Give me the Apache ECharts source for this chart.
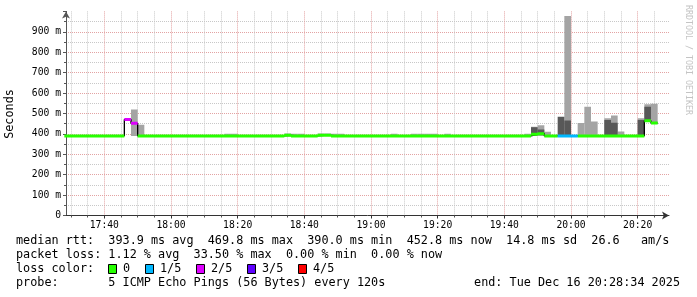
<!DOCTYPE html>
<html><head><meta charset="utf-8">
<script src="https://cdn.jsdelivr.net/npm/echarts@6/dist/echarts.min.js"></script>
<style>html,body{margin:0;padding:0;background:#fff}#c{width:697px;height:297px}</style>
</head><body><div id="c"></div>
<script>
// ---- data (2-minute bins, first bin starts 17:28, last ends 20:26) ----
const firstBinStart = '17:28';
const stepMinutes = 2;
const medianRtt = [ // ms
  390,390,390,390,390,390,390,390,390,469.8,
  451.6,390,390,390,390,390,390,390,390,390,
  390,390,390,390,390,390,390,390,390,390,
  390,390,390,393,390,390,390,390,393,393,
  390,390,390,390,390,390,390,390,390,390,
  390,390,390,390,390,390,390,390,390,390,
  390,390,390,390,390,390,390,390,390,390,
  398,401,390,390,390,390,390,390,390,390,
  390,390,390,390,390,390,390,464,452.8
];
const lossLevel = [ // lost pings out of 5
  0,0,0,0,0,0,0,0,0,2,
  2,0,0,0,0,0,0,0,0,0,
  0,0,0,0,0,0,0,0,0,0,
  0,0,0,0,0,0,0,0,0,0,
  0,0,0,0,0,0,0,0,0,0,
  0,0,0,0,0,0,0,0,0,0,
  0,0,0,0,0,0,0,0,0,0,
  0,0,0,0,1,1,1,0,0,0,
  0,0,0,0,0,0,0,0,0
];
// outer smoke (min..max ping) per bin index
const lightBins   = [10, 11, 24, 25, 33, 34, 35, 38, 39, 40, 41, 49, 52, 53, 54, 55, 57, 69, 70, 71, 72, 75, 77, 78, 79, 81, 82, 83, 86, 87, 88];
const lightBottom = [390,390,390,390,390,390,390,390,390,390,390,390,390,390,390,390,390,390,390,390,390,390,390,390,390,390,390,390,390,460,452];
const lightTop    = [519,445,400,400,402,400,400,402,402,400,400,400,400,400,400,400,400,401,435,442,410,978,453,533,460,476,490,411,476,545,548];
// inner smoke per bin index
const darkBins   = [70, 71, 74, 75, 81, 82, 86, 87];
const darkBottom = [393,395,390,390,390,390,390,468];
const darkTop    = [432,421,484,465,468,455,468,533];
// axis
const timeTickLabels = ['17:40','18:00','18:20','18:40','19:00','19:20','19:40','20:00','20:20'];
const lossLegend = ['0','1/5','2/5','3/5','4/5'];
const lossColors = ['#26ff00','#00b8ff','#dd00ff','#5e00ff','#ff0000'];
const statLines = [
  'median rtt:  393.9 ms avg  469.8 ms max  390.0 ms min  452.8 ms now  14.8 ms sd  26.6   am/s',
  'packet loss: 1.12 % avg  33.50 % max  0.00 % min  0.00 % now',
  'loss color:',
  'probe:       5 ICMP Echo Pings (56 Bytes) every 120s'
];
const endText = 'end: Tue Dec 16 20:28:34 2025';

// ---- helpers ----
const toMin = s => { const [h, m] = s.split(':').map(Number); return (h - 17) * 60 + m; };
const fmt = v => { const t = Math.round(v); const h = 17 + Math.floor(t / 60), m = t % 60; return h + ':' + (m < 10 ? '0' : '') + m; };
const start0 = toMin(firstBinStart);
const binStart = k => start0 + k * stepMinutes;
const xMin = 28.5, xMax = 209.4;
const majorTicks = timeTickLabels.map(toMin);
const minorTicks = [];
for (let v = 30; v <= 205; v += 5) if (majorTicks.indexOf(v) < 0) minorTicks.push(v);

function smoke(bins, lo, hi, color) {
  return {
    type: 'custom', clip: true, silent: true, z: 1,
    encode: { x: [0, 1], y: [2, 3] },
    data: bins.map((k, i) => [binStart(k), binStart(k) + stepMinutes, lo[i], hi[i]]),
    renderItem: (params, api) => {
      const a = api.coord([api.value(0), api.value(3)]);
      const b = api.coord([api.value(1), api.value(2)]);
      return { type: 'rect', shape: { x: a[0], y: a[1], width: b[0] - a[0], height: b[1] - a[1] }, style: { fill: color } };
    }
  };
}
const blackData = [];
medianRtt.forEach((v, k) => { blackData.push([binStart(k), v], [binStart(k) + stepMinutes, v]); });
const colorSeries = lossColors.map((c, lvl) => {
  const d = [];
  medianRtt.forEach((v, k) => {
    if (lossLevel[k] !== lvl) return;
    d.push([binStart(k), v], [binStart(k) + stepMinutes, v], [binStart(k) + stepMinutes, '-']);
  });
  return { type: 'line', data: d, symbol: 'none', z: 4, silent: true,
    lineStyle: { color: c, width: 3, cap: 'butt' }, connectNulls: false, animation: false };
});

const mono = '"DejaVu Sans Mono", monospace';
const graphic = [
  { type: 'text', x: 10, y: 114, rotation: Math.PI / 2, style: { text: 'Seconds', font: '11.8px ' + mono, fill: '#000', align: 'center', verticalAlign: 'middle' } },
  { type: 'text', x: 688, y: 60, rotation: -Math.PI / 2, style: { text: 'RRDTOOL / TOBI OETIKER', font: '8.3px ' + mono, fill: '#c4c4c4', align: 'center', verticalAlign: 'middle' } },
  { type: 'text', x: 680, y: 283, style: { text: endText, font: '11.8px ' + mono, fill: '#000', align: 'right', verticalAlign: 'middle' } }
];
[241, 255, 269, 283].forEach((y, i) => graphic.push({ type: 'text', x: 16, y: y, style: { text: statLines[i], font: '11.8px ' + mono, fill: '#000', verticalAlign: 'middle' } }));
const boxX = [108, 145, 196, 247, 298];
lossLegend.forEach((t, i) => {
  graphic.push({ type: 'rect', shape: { x: boxX[i] + 0.5, y: 264.5, width: 8, height: 9 }, style: { fill: lossColors[i], stroke: '#000', lineWidth: 1 } });
  graphic.push({ type: 'text', x: boxX[i] + 15, y: 269, style: { text: t, font: '11.8px ' + mono, fill: '#000', verticalAlign: 'middle' } });
});

const chart = echarts.init(document.getElementById('c'), null, { renderer: 'canvas' });
chart.setOption({
  animation: false,
  backgroundColor: '#fff',
  grid: { left: 66, right: 28, top: 11.4, bottom: 81.5, containLabel: false },
  xAxis: [
    { type: 'value', min: xMin, max: xMax, position: 'bottom',
      axisLine: { show: true, symbol: ['none', 'arrow'], symbolSize: [6, 7], lineStyle: { color: '#333' } },
      axisTick: { show: true, length: 3, customValues: majorTicks, lineStyle: { color: '#333' } },
      axisLabel: { customValues: majorTicks, formatter: fmt, fontFamily: mono, fontSize: 9.7, color: '#000', margin: 5 },
      splitLine: { show: true, lineStyle: { color: '#e3a3a3', type: [1, 1] } } },
    { type: 'value', min: xMin, max: xMax, position: 'bottom', z: 0,
      axisLine: { show: false },
      axisTick: { show: true, length: 2, customValues: minorTicks, lineStyle: { color: '#555' } },
      axisLabel: { show: false, customValues: minorTicks },
      splitLine: { show: true, lineStyle: { color: '#c8c8c8', type: [1, 1] } } }
  ],
  yAxis: {
    type: 'value', min: 0, max: 1000, interval: 100,
    axisLine: { show: true, symbol: ['none', 'arrow'], symbolSize: [6, 7], lineStyle: { color: '#555' } },
    axisTick: { show: true, length: 3, lineStyle: { color: '#555' } },
    minorTick: { show: true, splitNumber: 2, length: 2, lineStyle: { color: '#555' } },
    axisLabel: { formatter: v => v === 0 ? '0' : v + ' m', fontFamily: mono, fontSize: 9.7, color: '#000', margin: 5, showMaxLabel: false },
    splitLine: { show: true, showMaxLine: false, lineStyle: { color: '#e3a3a3', type: [1, 1] } },
    minorSplitLine: { show: true, lineStyle: { color: '#c8c8c8', type: [1, 1] } }
  },
  series: [
    smoke(lightBins, lightBottom, lightTop, '#a4a4a4'),
    smoke(darkBins, darkBottom, darkTop, '#585858'),
    { type: 'line', data: blackData, symbol: 'none', z: 3, silent: true, lineStyle: { color: '#000', width: 1.3 } },
    ...colorSeries
  ],
  graphic: graphic
});
</script></body></html>
